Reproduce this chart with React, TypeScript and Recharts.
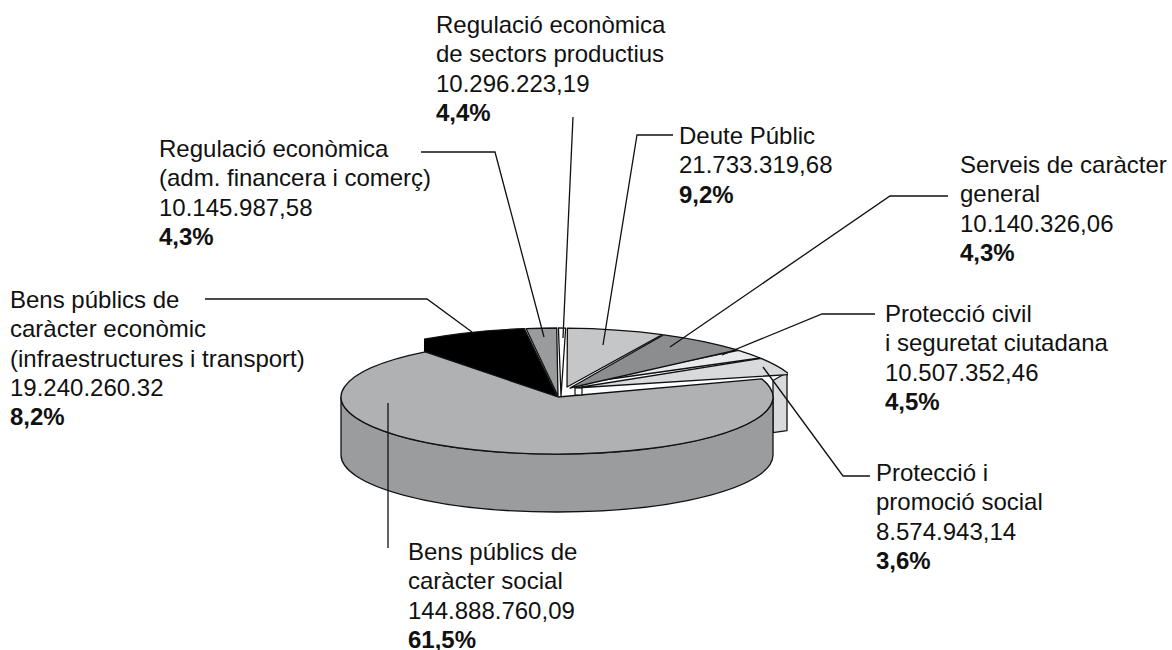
import React from "react";
import { PieChart, Pie } from "recharts";

// Wedge order runs anticlockwise from the tip of "Protecció i promoció social".
const names = [
  "Protecció i promoció social",
  "Protecció civil i seguretat ciutadana",
  "Serveis de caràcter general",
  "Deute Públic",
  "Regulació econòmica de sectors productius",
  "Regulació econòmica (adm. financera i comerç)",
  "Bens públics de caràcter econòmic",
  "Bens públics de caràcter social",
];
// Printed figures, as they are written on the labels.
const printedAmounts = ["8.574.943,14", "10.507.352,46", "10.140.326,06", "21.733.319,68", "10.296.223,19", "10.145.987,58", "19.240.260.32", "144.888.760,09"];
const printedShares = ["3,6%", "4,5%", "4,3%", "9,2%", "4,4%", "4,3%", "8,2%", "61,5%"];
// The reference's wedges are not drawn in proportion to their printed figures,
// so the sweep of each wedge is read off the picture separately (degrees of the turn).
const drawnSweeps = [15, 8.2, 21.4, 23, 1.7, 7.2, 29.3, 251];

const chartData = names.map((name, i) => ({ name, value: drawnSweeps[i], amount: printedAmounts[i], share: printedShares[i] }));

const fills = ["#d9dadc", "#e9eaeb", "#8c8d8f", "#c5c6c8", "#ffffff", "#9a9b9d", "#000000", "#b0b1b3"];
// Per wedge: ellipse scale, centre shift and apex of the wedge.
const geometry = [
  { sx: 1, sy: 69, dx: 0, ax: 575, ay: 388 },
  { sx: 1, sy: 69, dx: 0, ax: 582, ay: 383 },
  { sx: 1, sy: 69, dx: 0, ax: 570, ay: 388 },
  { sx: 1, sy: 69, dx: 0, ax: 567, ay: 387 },
  { sx: 1, sy: 69, dx: 0, ax: 561, ay: 396 },
  { sx: 1, sy: 69, dx: 0, ax: 558, ay: 396 },
  { sx: 1, sy: 69, dx: 0, ax: 557, ay: 396 },
  { sx: 216 / 245, sy: 57, dx: -1, ax: 558, ay: 397 },
];
const DEPTH = 58;
const INK = "#111111";

const rad = (a: number) => (a * Math.PI) / 180;

function WedgeShape(props: any) {
  const { cx, cy, outerRadius, startAngle, endAngle, index } = props;
  const g = geometry[index];
  const rx = outerRadius * g.sx;
  const ry = g.sy;
  const ex = cx + g.dx;
  const pt = (a: number, drop = 0) => [ex + rx * Math.cos(rad(a)), cy - ry * Math.sin(rad(a)) + drop];
  const [x1, y1] = pt(startAngle);
  const [x2, y2] = pt(endAngle);
  const large = Math.abs(endAngle - startAngle) > 180 ? 1 : 0;
  const top = `M${g.ax},${g.ay} L${x1},${y1} A${rx},${ry} 0 ${large} 0 ${x2},${y2} Z`;
  const common = { stroke: INK, strokeWidth: 1.3, strokeLinejoin: "round" as const };
  if (index === 0) {
    // Raised tip of the wedge with its flat side wall.
    return (
      <g clipPath="url(#tipClip)">
        <path d={`M773,${y1 + 6} L787,${y1 - 2} L787,${y1 + DEPTH - 2} L773,${y1 + DEPTH} Z`} fill={fills[index]} {...common} />
        <path d={top} fill={fills[index]} {...common} />
      </g>
    );
  }
  if (index === 6) {
    // Black wedge is cut square at its left end; its lower part runs under the large slice.
    const d = `M${g.ax},${g.ay} L${x1},${y1} A${rx},${ry} 0 0 0 ${x2},${y2} L${x2},${y2 + 22} Z`;
    return <path d={d} fill={fills[index]} clipPath="url(#blackClip)" stroke={INK} strokeWidth={1.3} />;
  }
  if (index === 7) {
    const [lx, ly] = pt(180);
    const [rx2, ry2] = pt(360);
    const wall = `M${lx},${ly} L${lx},${ly + DEPTH} A${rx},${ry} 0 0 0 ${rx2},${ry2 + DEPTH} L${rx2},${ry2} A${rx},${ry} 0 0 1 ${lx},${ly} Z`;
    return (
      <g>
        <path d={wall} fill="#9b9c9e" {...common} />
        <path d={top} fill={fills[index]} {...common} />
      </g>
    );
  }
  return <path d={top} fill={fills[index]} {...common} />;
}

const leaders = [
  "573,117 563,338",
  "421,152 495,152 544,337",
  "673,135 637,135 603,345",
  "948,196 890,196 670,347",
  "875,314 822,314 722,355",
  "870,476 843,476 763,367",
  "388,403 388,548",
  "205,299 427,299 472,332",
];

const labels = [
  { x: 436, y: 33, title: ["Regulació econòmica", "de sectors productius"], i: 4 },
  { x: 159, y: 157, title: ["Regulació econòmica", "(adm. financera i comerç)"], i: 5 },
  { x: 679, y: 144, title: ["Deute Públic"], i: 3 },
  { x: 960, y: 173, title: ["Serveis de caràcter", "general"], i: 2 },
  { x: 885, y: 322, title: ["Protecció civil", "i seguretat ciutadana"], i: 1 },
  { x: 876, y: 481, title: ["Protecció i", "promoció social"], i: 0 },
  { x: 408, y: 560, title: ["Bens públics de", "caràcter social"], i: 7 },
  { x: 10, y: 308, title: ["Bens públics de", "caràcter econòmic", "(infraestructures i transport)"], i: 6 },
];
const LINE = 29.3;

export default function App() {
  return (
    <div style={{ position: "absolute", left: 0, top: 0, width: 1172, height: 650, background: "#fff" }}>
      <PieChart width={1172} height={650} margin={{ top: 0, right: 0, bottom: 0, left: 0 }}>
        <defs>
          <clipPath id="blackClip"><rect x={424} y={300} width={200} height={120} /></clipPath>
          <clipPath id="tipClip"><rect x={500} y={300} width={288} height={160} /></clipPath>
        </defs>
        <Pie
          data={chartData}
          dataKey="value"
          nameKey="name"
          cx={558}
          cy={397}
          innerRadius={0}
          outerRadius={245}
          startAngle={19}
          endAngle={379}
          paddingAngle={0.4}
          stroke="none"
          isAnimationActive={false}
          shape={WedgeShape}
        />
      </PieChart>
      <svg width={1172} height={650} style={{ position: "absolute", left: 0, top: 0, pointerEvents: "none" }}>
        <rect x={575} y={388} width={7} height={7} fill="#fff" stroke={INK} strokeWidth={1.2} />
        {leaders.map((p) => (
          <polyline key={p} points={p} fill="none" stroke={INK} strokeWidth={1.3} />
        ))}
        {labels.map((l) => {
          const d = chartData[l.i];
          return (
            <text key={d.name} x={l.x} y={l.y} fontFamily="'Liberation Sans', Arial, sans-serif" fontSize={24} fill="#111">
              {l.title.map((t, k) => (
                <tspan key={k} x={l.x} y={l.y + k * LINE}>{t}</tspan>
              ))}
              <tspan x={l.x} y={l.y + l.title.length * LINE}>{d.amount}</tspan>
              <tspan x={l.x} y={l.y + (l.title.length + 1) * LINE} fontWeight="bold">{d.share}</tspan>
            </text>
          );
        })}
      </svg>
    </div>
  );
}
